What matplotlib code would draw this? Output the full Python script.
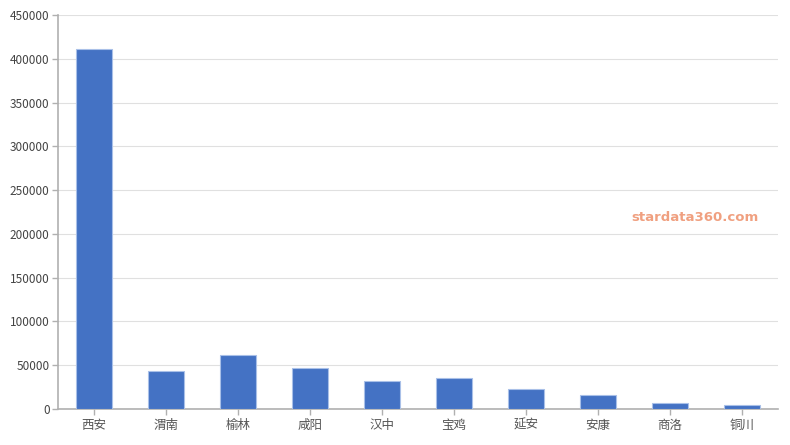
import matplotlib
matplotlib.use('Agg')
import matplotlib.pyplot as plt
import numpy as np

plt.rcParams['font.family'] = ['Noto Sans CJK SC', 'DejaVu Sans']

# 数据
cities = ['西安', '渭南', '榆林', '咸阳', '汉中', '宝鸡', '延安', '安康', '商洛', '铜川']
values = [411000, 43300, 61300, 46800, 31500, 35000, 23000, 15800, 7200, 4500]
yticks = np.arange(0, 450001, 50000)

fig = plt.figure(figsize=(7.9, 4.45), dpi=100)
ax = fig.add_axes([0.0734, 0.0809, 0.9116, 0.885])

x = np.arange(len(cities))
ax.bar(x, values, width=0.49, color='#4472C4', edgecolor='#a9c0e8', linewidth=0.8, zorder=3)

ax.set_xlim(-0.5, len(cities) - 0.5)
ax.set_ylim(0, 450000)
ax.set_yticks(yticks)
ax.set_yticklabels([str(v) for v in yticks], fontsize=8.5, color='#444444')
ax.set_xticks(x)
ax.set_xticklabels(cities, fontsize=9, color='#555555')

ax.grid(axis='y', color='#e0e0e0', linewidth=0.8, zorder=0)
for s in ['top', 'right']:
    ax.spines[s].set_visible(False)
for s in ['left', 'bottom']:
    ax.spines[s].set_color('#b0b0b0')
    ax.spines[s].set_linewidth(1.2)
ax.tick_params(axis='both', colors='#b0b0b0', length=4, width=1)
ax.tick_params(axis='x', labelcolor='#555555', pad=3)
ax.tick_params(axis='y', labelcolor='#444444', pad=2)

fig.text(0.88, 0.512, 'stardata360.com', color='#f0a080', fontsize=9.5,
         fontweight='bold', ha='center', va='center', family=['DejaVu Sans'])

fig.savefig('out.png', dpi=100)
